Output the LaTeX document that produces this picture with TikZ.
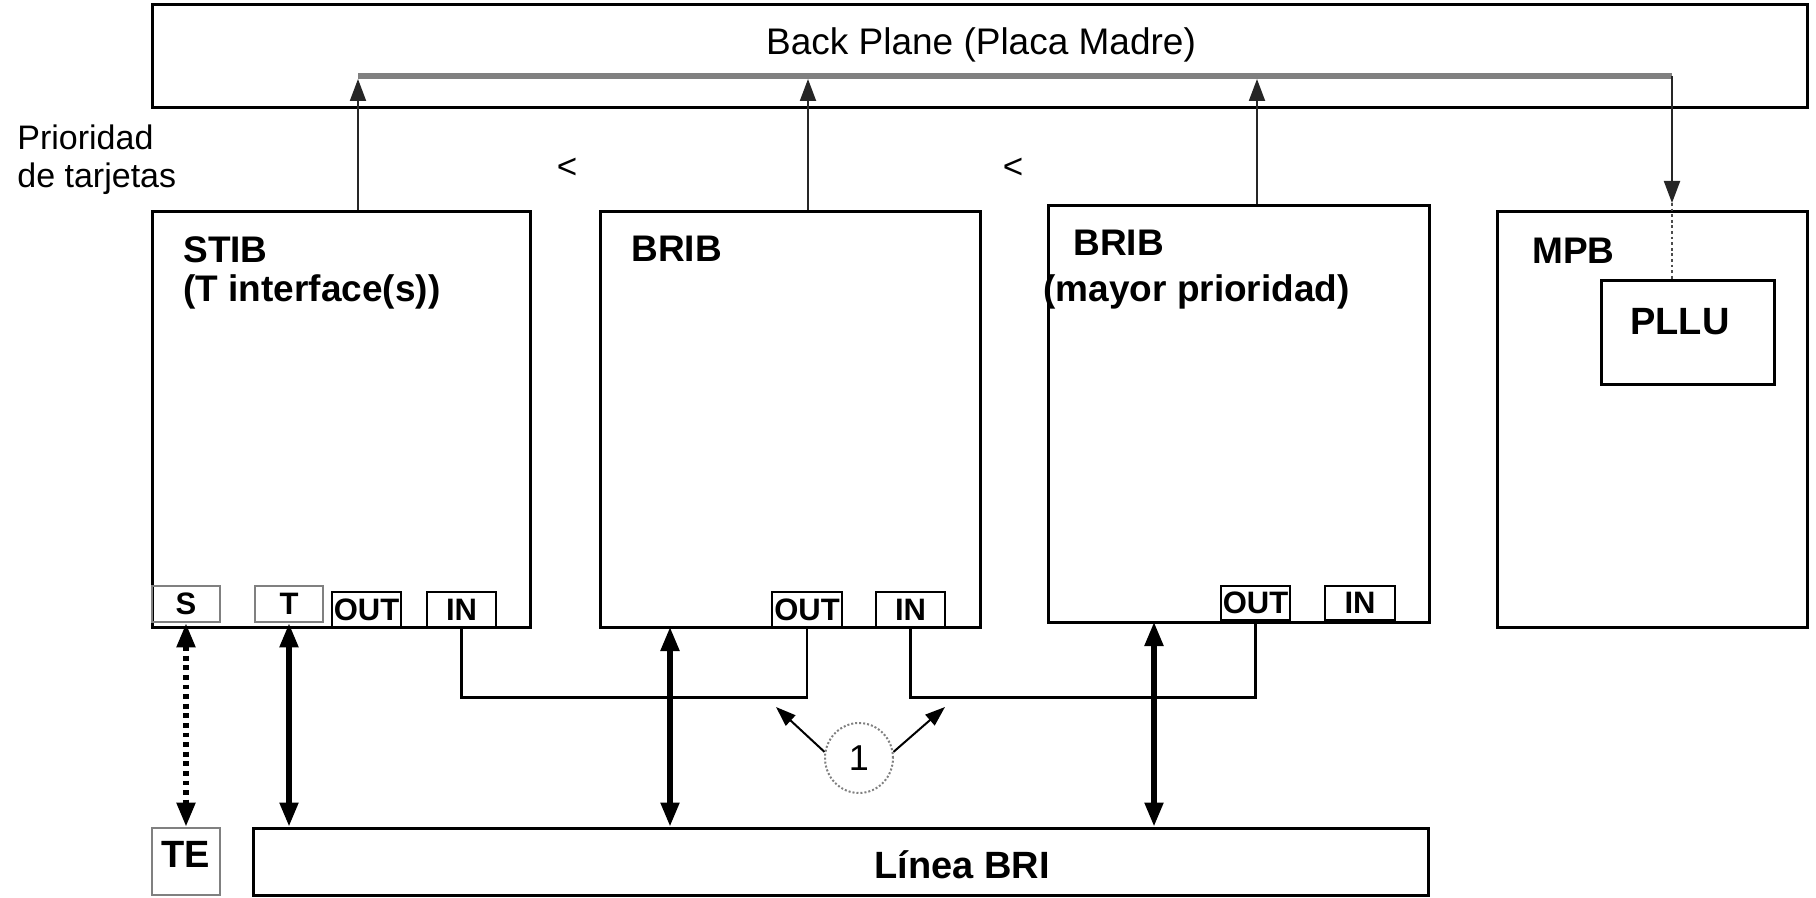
\documentclass[tikz,border=0pt]{standalone}
\usepackage{fontspec}
\setmainfont{Liberation Sans}
\usetikzlibrary{fit,arrows.meta,shapes.geometric}
\begin{document}
\begin{tikzpicture}[x=0.5pt,y=-0.5pt,
  box/.style={draw=black, line width=1.5pt, inner sep=0pt},
  gport/.style={draw=black!50, text=black, line width=1.4pt, inner sep=0pt, font=\fontsize{15.5}{16}\selectfont\bfseries},
  port/.style={draw=black, line width=1.4pt, inner sep=0pt, font=\fontsize{15.5}{16}\selectfont\bfseries},
  hdr/.style={font=\fontsize{18.5}{19.5}\selectfont\bfseries, anchor=north west, inner sep=0pt, align=left},
  bold/.style={font=\fontsize{19}{20}\selectfont\bfseries, inner sep=0pt},
  reg/.style={font=\fontsize{17.5}{19}\selectfont, inner sep=0pt},
  bidir/.style={line width=2.6pt, {Triangle[length=12pt,width=9pt]}-{Triangle[length=12pt,width=9pt]}},
  up/.style={draw=black!85, line width=1pt, -{Triangle[length=11pt,width=8pt]}},
  thinarrow/.style={draw=black, line width=1pt, -{Triangle[length=10pt,width=7pt]}},
  bus/.style={draw=black!50, line width=3pt},
  conn/.style={draw=black, line width=1.1pt},
  dotline/.style={draw=black!70, line width=1.4pt, dash pattern=on 1.4pt off 1.4pt},
]
\useasboundingbox (0,0) rectangle (1816,898);

% Back plane
\node[box, fit={(152,5) (1807,108)}] (bp) {};
\node[reg, font=\fontsize{18.5}{20}\selectfont] (bpt) at (981,45) {Back Plane (Placa Madre)};

% Cards
\node[box, fit={(152,212) (530,627)}] (stib) {};
\node[box, fit={(600,212) (980,627)}] (brib1) {};
\node[box, fit={(1048,206) (1429,622)}] (brib2) {};
\node[box, fit={(1497,212) (1807,627)}] (mpb) {};
\node[box, fit={(1601,281) (1774,385)}] (pllu) {};

% Bottom
\node[box, fit={(253,828) (1428,895)}] (linea) {};
\node[gport, fit={(152,828) (220,895)}] (te) {};

% Texts
\node[hdr] (stibt) at (183,236) {STIB\\(T interface(s))};
\node[hdr] (brib1t) at (631,236) {BRIB};
\node[hdr, font=\fontsize{18.5}{23}\selectfont\bfseries] (brib2t) at (1043,230) {\hspace*{15pt}BRIB\\(mayor prioridad)};
\node[hdr] (mpbt) at (1532,238) {MPB};
\node[bold, anchor=base] (pllut) at (1680,335) {PLLU};
\node[bold, anchor=base] (lineat) at (962,878) {Línea BRI};
\node[bold, anchor=base] (tet) at (186,867) {TE};
\node[reg, font=\fontsize{17}{19}\selectfont, anchor=north west, align=left] (prio) at (17,124) {Prioridad\\de tarjetas};
\node[reg] (lt1) at (567,168) {<};
\node[reg] (lt2) at (1013,168) {<};

% Ports
\node[gport, minimum width=34pt, minimum height=18pt] (stibs) at (186,604) {S};
\node[gport, minimum width=34pt, minimum height=18pt] (stibtp) at (289,604) {T};
\node[port, minimum width=34.5pt, minimum height=17.5pt] (stibout) at (366.5,609.5) {OUT};
\node[port, minimum width=34.5pt, minimum height=17.5pt] (stibin) at (461.5,609.5) {IN};
\node[port, minimum width=35pt, minimum height=17.5pt] (brib1out) at (807,609.5) {OUT};
\node[port, minimum width=34.5pt, minimum height=17.5pt] (brib1in) at (910.5,609.5) {IN};
\node[port, minimum width=34.5pt, minimum height=17pt] (brib2out) at (1255.5,603) {OUT};
\node[port, minimum width=35pt, minimum height=17pt] (brib2in) at (1360,603) {IN};

% Bus and back plane arrows
\coordinate (busL) at (358,76);
\coordinate (busR) at (1672,76);
\coordinate (tip1) at (358,79);
\coordinate (tip2) at (808,79);
\coordinate (tip3) at (1257,79);
\coordinate (tipM) at (1672,203);
\draw[bus] (busL) -- (busR);
\draw[up] (stib.north -| tip1) -- (tip1);
\draw[up] (brib1.north -| tip2) -- (tip2);
\draw[up] (brib2.north -| tip3) -- (tip3);
\draw[up] (busR) -- (tipM);
\draw[dotline] (tipM) -- (pllu.north -| tipM);

% BRI line arrows
\coordinate (m1) at (670,627);
\coordinate (m2) at (1154,622);
\draw[bidir] (stibtp.south) -- (stibtp.south |- linea.north);
\draw[bidir, dash pattern=on 2.4pt off 2.4pt] (stibs.south) -- (te.north);
\draw[bidir] (m1) -- (m1 |- linea.north);
\draw[bidir] (m2) -- (m2 |- linea.north);

% IN -> OUT chain
\draw[conn] (stibin.south) -- ++(0,69) -| (brib1out.south);
\draw[conn] (brib1in.south) -- ++(0,69) -| (brib2out.south);

% Note 1
\node[ellipse, draw=black!50, densely dotted, line width=1pt, minimum width=34pt, minimum height=35pt, inner sep=0pt, font=\fontsize{18}{20}\selectfont] (one) at (859,758) {1};
\coordinate (p1) at (776,707);
\coordinate (p2) at (945,707);
\draw[thinarrow] (one.170) -- (p1);
\draw[thinarrow] (one.10) -- (p2);
\end{tikzpicture}
\end{document}
